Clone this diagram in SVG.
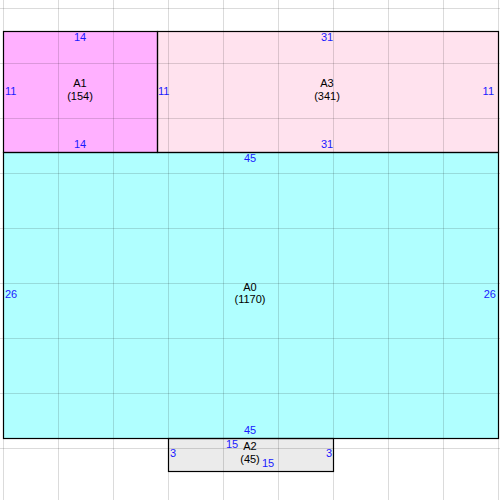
<svg xmlns="http://www.w3.org/2000/svg" width="500" height="500" viewBox="0 0 500 500">
<style>
.grid line{stroke:#000;stroke-opacity:0.14;stroke-width:1}
.box{stroke:#000;stroke-width:1.2}
.lbl{font-family:"Liberation Sans",Arial,sans-serif;font-size:11px;fill:#000;text-anchor:middle}
.dim{font-family:"Liberation Sans",Arial,sans-serif;font-size:11px;fill:#1a1aff}
.c{text-anchor:middle}
.r{text-anchor:end}
</style>
<rect width="500" height="500" fill="#fff"/>
<g id="fills">
<rect x="3" y="31" width="154" height="121" fill="#ffb0ff"/>
<rect x="157" y="31" width="341" height="121" fill="#ffe2ee"/>
<rect x="3" y="152" width="495" height="286" fill="#b0ffff"/>
<rect x="168" y="438" width="165" height="33" fill="#ebebeb"/>
</g>
<g class="grid">
<line x1="58.5" y1="0" x2="58.5" y2="500"/>
<line x1="113.5" y1="0" x2="113.5" y2="500"/>
<line x1="168.5" y1="0" x2="168.5" y2="500"/>
<line x1="223.5" y1="0" x2="223.5" y2="500"/>
<line x1="278.5" y1="0" x2="278.5" y2="500"/>
<line x1="333.5" y1="0" x2="333.5" y2="500"/>
<line x1="388.5" y1="0" x2="388.5" y2="500"/>
<line x1="443.5" y1="0" x2="443.5" y2="500"/>
<line x1="498.5" y1="0" x2="498.5" y2="500"/>
<line x1="3.5" y1="0" x2="3.5" y2="500"/>
<line x1="0" y1="8.5" x2="500" y2="8.5"/>
<line x1="0" y1="63.5" x2="500" y2="63.5"/>
<line x1="0" y1="118.5" x2="500" y2="118.5"/>
<line x1="0" y1="173.5" x2="500" y2="173.5"/>
<line x1="0" y1="228.5" x2="500" y2="228.5"/>
<line x1="0" y1="283.5" x2="500" y2="283.5"/>
<line x1="0" y1="338.5" x2="500" y2="338.5"/>
<line x1="0" y1="393.5" x2="500" y2="393.5"/>
<line x1="0" y1="448.5" x2="500" y2="448.5"/>
</g>
<g id="A1">
<rect class="box" x="3.5" y="31.5" width="154" height="121" fill="none"/>
<text class="lbl" x="80" y="87">A1</text>
<text class="lbl" x="80" y="100">(154)</text>
<text class="dim c" x="80" y="41">14</text>
<text class="dim c" x="80" y="148">14</text>
<text class="dim" x="5" y="95">11</text>
</g>
<g id="A3">
<rect class="box" x="157.5" y="31.5" width="341" height="121" fill="none"/>
<text class="lbl" x="327" y="87">A3</text>
<text class="lbl" x="327" y="100">(341)</text>
<text class="dim c" x="327" y="41">31</text>
<text class="dim c" x="327" y="148">31</text>
<text class="dim" x="158" y="95">11</text>
<text class="dim r" x="494" y="95">11</text>
</g>
<g id="A0">
<rect class="box" x="3.5" y="152.5" width="495" height="286" fill="none"/>
<text class="lbl" x="250" y="291">A0</text>
<text class="lbl" x="250" y="303">(1170)</text>
<text class="dim c" x="250" y="162">45</text>
<text class="dim c" x="250" y="434">45</text>
<text class="dim" x="5" y="298">26</text>
<text class="dim r" x="496" y="298">26</text>
</g>
<g id="A2">
<rect class="box" x="168.5" y="438.5" width="165" height="33" fill="none"/>
<text class="lbl" x="250" y="450">A2</text>
<text class="lbl" x="250" y="463">(45)</text>
<text class="dim c" x="232" y="448">15</text>
<text class="dim c" x="268" y="467">15</text>
<text class="dim" x="170" y="457">3</text>
<text class="dim r" x="332" y="457">3</text>
</g>
<g id="connectors"/>
</svg>
